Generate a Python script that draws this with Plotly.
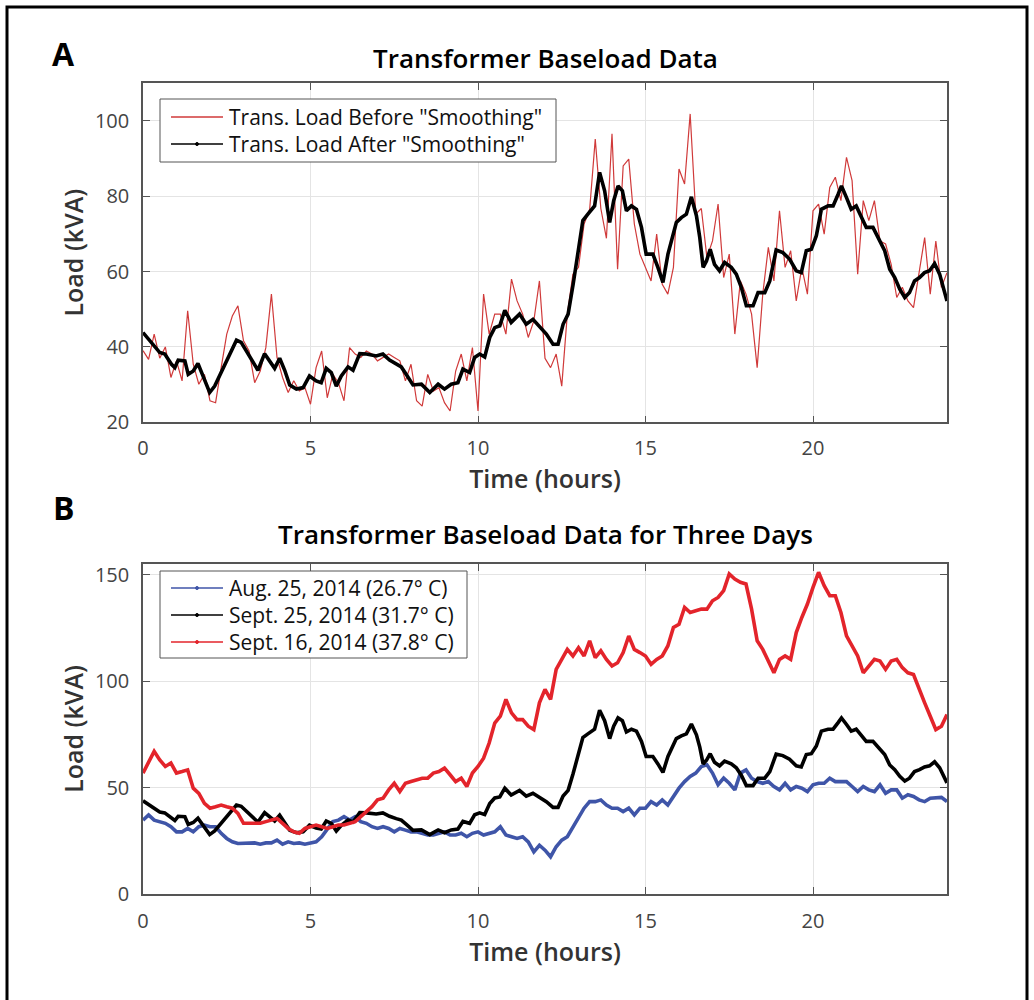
import plotly.graph_objects as go

# ---------------- data ----------------
# Panel A: raw transformer load (10-minute samples, hours 0..24)
raw_load = [39.0, 36.7, 43.4, 37.0, 40.0, 31.9, 36.3, 31.0, 49.6, 35.4, 30.1, 32.7,
            25.7, 25.2, 34.5, 43.4, 48.2, 50.9, 41.6, 38.9, 30.5, 33.6, 39.8, 54.0,
            37.2, 31.9, 27.9, 31.0, 28.3, 29.2, 24.8, 34.5, 38.9, 26.5, 32.7, 30.5,
            25.7, 39.8, 38.1, 37.2, 38.9, 38.1, 36.3, 37.2, 38.1, 37.2, 36.3, 31.0,
            35.4, 25.7, 24.3, 32.7, 28.3, 29.2, 25.2, 23.0, 33.6, 38.1, 31.0, 39.8,
            23.0, 54.0, 43.4, 48.7, 48.7, 43.4, 58.0, 52.2, 48.7, 42.5, 46.9, 57.5,
            37.0, 34.5, 38.1, 29.6, 48.7, 59.3, 61.1, 72.6, 76.5, 95.1, 76.7, 68.8,
            96.5, 60.6, 88.0, 89.8, 72.6, 64.6, 61.1, 57.5, 69.9, 56.6, 54.0, 61.1,
            87.2, 83.2, 101.8, 75.2, 76.7, 63.7, 68.1, 77.9, 58.4, 64.6, 43.4, 57.5,
            54.0, 48.7, 34.5, 54.0, 66.4, 57.5, 76.1, 61.1, 65.5, 52.2, 61.1, 54.0,
            76.1, 77.9, 69.9, 82.3, 85.0, 78.8, 90.3, 84.1, 59.3, 78.8, 73.5, 78.8,
            68.1, 67.3, 61.9, 53.1, 55.8, 52.2, 50.4, 59.3, 69.0, 54.0, 68.1, 55.8,
            59.7]

# Smoothed load (also the Sept. 25, 2014 curve in panel B)
smooth_t = [0.0, 0.3, 0.5, 0.65, 0.85, 0.95, 1.05, 1.25, 1.35, 1.5, 1.64, 1.79, 1.99, 2.14,
            2.39, 2.64, 2.79, 2.93, 3.08, 3.28, 3.43, 3.63, 3.78, 3.93, 4.08, 4.23, 4.38,
            4.58, 4.78, 4.97, 5.17, 5.32, 5.47, 5.62, 5.77, 5.92, 6.12, 6.27, 6.47, 6.67,
            6.96, 7.16, 7.36, 7.56, 7.71, 7.86, 8.06, 8.31, 8.56, 8.81, 9.0, 9.2, 9.4,
            9.55, 9.75, 9.9, 10.05, 10.2, 10.35, 10.5, 10.65, 10.8, 10.99, 11.24, 11.44,
            11.64, 11.84, 12.04, 12.24, 12.39, 12.54, 12.69, 12.84, 12.98, 13.13, 13.28,
            13.48, 13.63, 13.78, 13.93, 14.05, 14.18, 14.31, 14.43, 14.58, 14.73, 14.88,
            15.02, 15.22, 15.37, 15.52, 15.67, 15.82, 15.92, 16.07, 16.22, 16.37, 16.52,
            16.62, 16.72, 16.82, 16.93, 17.06, 17.21, 17.36, 17.56, 17.71, 17.86, 18.01,
            18.21, 18.36, 18.56, 18.71, 18.9, 19.1, 19.3, 19.5, 19.65, 19.8, 19.95, 20.1,
            20.25, 20.45, 20.6, 20.75, 20.85, 21.0, 21.14, 21.29, 21.44, 21.59, 21.79,
            21.99, 22.14, 22.29, 22.44, 22.59, 22.74, 22.88, 23.03, 23.18, 23.33, 23.48,
            23.63, 23.78, 24.0]
smooth_load = [43.8, 40.7, 38.5, 38.1, 35.4, 34.5, 36.5, 36.3, 32.7, 33.6, 35.6, 32.3, 27.9,
               29.6, 34.5, 39.4, 41.8, 41.2, 38.9, 35.8, 33.8, 38.2, 36.3, 34.3, 37.0, 33.8,
               29.9, 28.8, 29.2, 32.3, 31.0, 30.5, 34.3, 33.2, 29.6, 32.3, 34.7, 33.8, 38.2,
               38.1, 37.6, 38.1, 36.5, 35.4, 34.7, 32.7, 29.9, 30.1, 27.9, 30.1, 28.8, 30.1,
               30.5, 34.1, 33.2, 37.2, 38.1, 37.3, 42.5, 45.1, 45.6, 49.7, 46.5, 48.7, 46.0,
               47.3, 45.5, 43.4, 40.7, 40.7, 46.0, 48.7, 56.6, 64.6, 73.5, 75.2, 77.4, 86.3,
               81.4, 73.0, 78.8, 82.7, 81.4, 76.1, 77.4, 76.5, 71.7, 64.6, 64.6, 61.1, 57.1,
               64.6, 69.9, 73.0, 74.3, 75.2, 79.8, 74.8, 69.0, 61.1, 62.8, 65.9, 61.9, 60.2,
               62.4, 61.1, 59.3, 55.8, 50.9, 50.9, 54.4, 54.4, 57.5, 65.7, 65.0, 63.3, 60.2,
               59.7, 65.5, 65.9, 69.5, 76.5, 77.4, 77.4, 80.5, 82.7, 79.6, 76.5, 77.4, 74.3,
               71.7, 71.7, 68.1, 65.5, 60.6, 58.4, 55.3, 53.1, 54.4, 57.5, 58.4, 59.7, 60.2,
               62.1, 59.3, 52.2]

# Panel B: Aug. 25, 2014 (10-minute samples)
aug25_load = [34.7, 37.1, 34.7, 34.0, 33.2, 31.6, 29.2, 29.2, 30.8, 29.2, 31.6, 32.4,
              31.6, 31.6, 28.5, 26.1, 24.5, 23.7, 23.7, 23.7, 24.0, 23.4, 24.0, 24.0,
              25.3, 23.4, 24.5, 23.7, 24.0, 23.4, 24.0, 24.5, 26.9, 30.8, 34.0, 34.7,
              36.3, 34.7, 36.3, 34.0, 33.2, 31.6, 30.8, 31.6, 30.8, 29.2, 30.8, 30.0,
              29.2, 29.2, 28.5, 27.7, 27.7, 28.5, 29.2, 27.7, 27.7, 28.5, 26.9, 28.5,
              29.2, 27.7, 28.5, 29.2, 31.6, 27.7, 26.9, 26.1, 26.9, 24.5, 19.8, 22.9,
              20.6, 17.5, 22.2, 25.3, 26.9, 31.6, 36.3, 40.3, 43.4, 43.4, 44.2, 41.8,
              40.3, 40.3, 38.7, 40.3, 37.1, 40.3, 40.3, 43.4, 41.8, 44.2, 41.8, 45.8,
              49.7, 52.8, 55.2, 56.8, 59.9, 60.7, 56.8, 51.3, 54.4, 52.0, 48.9, 56.8,
              58.3, 54.4, 52.8, 52.0, 52.8, 50.5, 48.9, 52.0, 48.9, 50.5, 49.7, 48.1,
              51.3, 52.0, 52.0, 54.4, 52.8, 52.8, 52.8, 50.5, 48.1, 50.5, 48.9, 48.1,
              51.3, 47.3, 48.9, 48.9, 45.0, 46.6, 45.8, 44.2, 43.4, 45.0, 45.0, 45.4,
              43.4]

# Panel B: Sept. 16, 2014 (10-minute samples)
sep16_load = [56.8, 62.0, 67.0, 63.0, 59.9, 61.5, 56.8, 57.5, 58.3, 49.7, 47.3, 42.6,
              40.3, 41.0, 41.8, 41.0, 40.3, 37.9, 33.2, 33.2, 33.2, 33.2, 34.0, 34.7,
              35.5, 33.2, 30.8, 29.2, 28.5, 30.8, 31.6, 32.4, 31.6, 30.8, 31.6, 32.4,
              32.4, 33.2, 34.0, 36.3, 38.7, 41.0, 44.2, 45.0, 48.9, 52.0, 48.1, 52.0,
              52.8, 53.6, 54.4, 54.4, 56.8, 57.5, 59.1, 56.0, 52.8, 54.4, 50.5, 56.8,
              59.9, 63.8, 70.9, 80.3, 83.5, 91.4, 85.1, 81.9, 81.9, 78.8, 77.2, 89.8,
              96.1, 91.4, 105.5, 110.2, 114.9, 111.8, 115.7, 111.8, 118.9, 111.0, 114.2, 110.2,
              107.1, 108.6, 113.4, 121.2, 114.9, 113.4, 111.8, 107.9, 110.2, 111.8, 116.5, 125.2,
              126.7, 134.6, 132.2, 133.0, 133.8, 133.8, 137.7, 139.3, 142.5, 150.3, 147.9, 146.4,
              145.6, 133.8, 118.9, 114.9, 109.4, 103.9, 110.2, 111.8, 110.2, 122.8, 129.9, 136.2,
              144.0, 151.1, 144.8, 140.1, 140.1, 132.2, 121.2, 116.5, 111.8, 103.9, 107.1, 110.2,
              109.4, 105.5, 109.4, 110.2, 106.3, 103.9, 103.1, 96.1, 89.8, 83.5, 77.2, 78.8,
              84.3]

t10 = [i / 6 for i in range(len(raw_load))]

x_ticks = [0, 5, 10, 15, 20]
yA_ticks = [20, 40, 60, 80, 100]
yB_ticks = [0, 50, 100, 150]

legendA_names = ['Trans. Load Before "Smoothing"', 'Trans. Load After "Smoothing"']
legendB_names = ["Aug. 25, 2014 (26.7° C)", "Sept. 25, 2014 (31.7° C)", "Sept. 16, 2014 (37.8° C)"]

RED_A = "#d03a3a"
RED_B = "#e3242b"
BLUE = "#3f55a8"
BLACK = "#000000"

FONT = "Open Sans"
AX = "#555555"
TICKC = "#444444"

# pixel -> paper helpers (plot area: x 143..947, y 83..894)
L, R, T, B = 143, 947, 83, 894
def px(x):
    return (x - L) / (R - L)
def py(y):
    return (B - y) / (B - T)

fig = go.Figure()

# Panel A traces
fig.add_trace(go.Scatter(x=t10, y=raw_load, mode="lines", line=dict(color=RED_A, width=1.2),
                         name=legendA_names[0], xaxis="x", yaxis="y", showlegend=False))
fig.add_trace(go.Scatter(x=smooth_t, y=smooth_load, mode="lines", line=dict(color=BLACK, width=3.6),
                         name=legendA_names[1], xaxis="x", yaxis="y", showlegend=False))

# Panel B traces
fig.add_trace(go.Scatter(x=t10, y=aug25_load, mode="lines", line=dict(color=BLUE, width=3.6),
                         name=legendB_names[0], xaxis="x2", yaxis="y2", showlegend=False))
fig.add_trace(go.Scatter(x=smooth_t, y=smooth_load, mode="lines", line=dict(color=BLACK, width=3.6),
                         name=legendB_names[1], xaxis="x2", yaxis="y2", showlegend=False))
fig.add_trace(go.Scatter(x=t10, y=sep16_load, mode="lines", line=dict(color=RED_B, width=3.6),
                         name=legendB_names[2], xaxis="x2", yaxis="y2", showlegend=False))

axis_common = dict(
    showline=True, linecolor=AX, linewidth=1.5, mirror="ticks",
    ticks="inside", ticklen=7, tickwidth=1, tickcolor=AX,
    showgrid=True, gridcolor="#e4e4e4", gridwidth=1, zeroline=False,
    tickfont=dict(family=FONT, size=20, color=TICKC),
)
title_font = dict(family=FONT, size=25, color="#333333", weight=600)

shapes = [dict(type="rect", xref="paper", yref="paper",
               x0=px(7), x1=px(1027), y0=py(1003), y1=py(7),
               line=dict(color="black", width=3), fillcolor="rgba(0,0,0,0)", layer="above")]
annotations = [
    dict(text="Transformer Baseload Data", xref="paper", yref="paper", x=0.5, y=py(58),
         xanchor="center", yanchor="middle", showarrow=False,
         font=dict(family=FONT, size=26, color="black", weight=600)),
    dict(text="Transformer Baseload Data for Three Days", xref="paper", yref="paper", x=0.5, y=py(534),
         xanchor="center", yanchor="middle", showarrow=False,
         font=dict(family=FONT, size=26, color="black", weight=600)),
    dict(text="A", xref="paper", yref="paper", x=px(63), y=py(53),
         xanchor="center", yanchor="middle", showarrow=False,
         font=dict(family=FONT, size=32, color="black", weight=700)),
    dict(text="B", xref="paper", yref="paper", x=px(64), y=py(508),
         xanchor="center", yanchor="middle", showarrow=False,
         font=dict(family=FONT, size=32, color="black", weight=700)),
]

# Legends drawn as boxes, sample lines, dots and labels
def add_legend(box, rows, names, colors, dots):
    x0, x1, y0, y1 = box
    shapes.append(dict(type="rect", xref="paper", yref="paper",
                       x0=px(x0), x1=px(x1), y0=py(y1), y1=py(y0),
                       line=dict(color="#555555", width=1), fillcolor="white", layer="above"))
    for yy, nm, col, dot in zip(rows, names, colors, dots):
        shapes.append(dict(type="line", xref="paper", yref="paper",
                           x0=px(171), x1=px(223), y0=py(yy), y1=py(yy),
                           line=dict(color=col, width=1.3), layer="above"))
        if dot:
            shapes.append(dict(type="circle", xref="paper", yref="paper",
                               x0=px(195.5), x1=px(198.5), y0=py(yy + 1.5), y1=py(yy - 1.5),
                               line=dict(color=col, width=1), fillcolor=col, layer="above"))
        annotations.append(dict(text=nm, xref="paper", yref="paper", x=px(227), y=py(yy),
                                xanchor="left", yanchor="middle", showarrow=False,
                                font=dict(family=FONT, size=21, color="#111111")))

add_legend((160, 556, 99, 162), [117, 144], legendA_names, [RED_A, BLACK], [False, True])
add_legend((160, 467, 571, 658), [588, 615, 642], legendB_names, [BLUE, BLACK, RED_B], [True, True, True])

fig.update_layout(
    width=1034, height=1000,
    margin=dict(l=L, r=1034 - R, t=T, b=1000 - B),
    paper_bgcolor="white", plot_bgcolor="white",
    showlegend=False,
    xaxis=dict(domain=[0, 1], anchor="y", range=[0, 24], tickvals=x_ticks,
               title=dict(text="Time (hours)", font=title_font, standoff=5),
               ticklabelstandoff=7, **axis_common),
    yaxis=dict(domain=[py(422.3), 1.0], anchor="x", range=[20, 110], tickvals=yA_ticks,
               title=dict(text="Load (kVA)", font=title_font, standoff=4),
               ticklabelstandoff=8, **axis_common),
    xaxis2=dict(domain=[0, 1], anchor="y2", range=[0, 24], tickvals=x_ticks,
                title=dict(text="Time (hours)", font=title_font, standoff=5),
                ticklabelstandoff=8, **axis_common),
    yaxis2=dict(domain=[0.0, py(564)], anchor="x2", range=[0, 155], tickvals=yB_ticks,
                title=dict(text="Load (kVA)", font=title_font, standoff=4),
                ticklabelstandoff=8, **axis_common),
    shapes=shapes,
    annotations=annotations,
)

fig.write_html("out.html")
